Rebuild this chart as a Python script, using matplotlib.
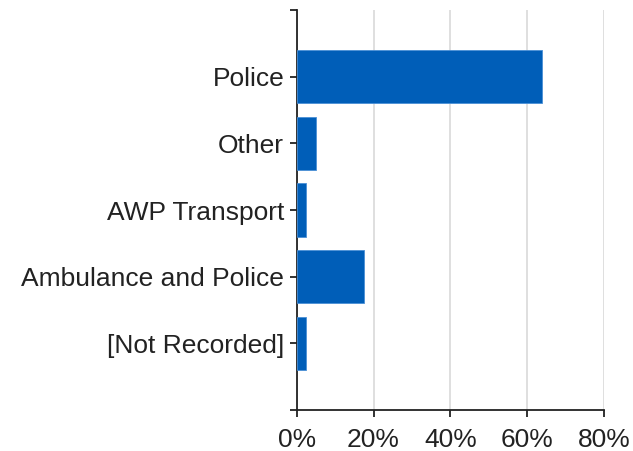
import numpy as np
import matplotlib.pyplot as plt

plt.rcParams['font.family'] = ['Liberation Sans', 'DejaVu Sans']

categories = ['Police', 'Other', 'AWP Transport', 'Ambulance and Police', '[Not Recorded]']
values = [63.8, 4.9, 2.3, 17.4, 2.3]
xticks = [0, 20, 40, 60, 80]

fig = plt.figure(figsize=(6.33, 4.51), dpi=100)
ax = fig.add_axes([0.4687, 0.0909, 0.4855, 0.8869])

y = np.arange(len(categories), 0, -1)
ax.barh(y, values, height=0.8, color='#005EB8', edgecolor='#4a8fd6', linewidth=0.6, zorder=3)

ax.set_xlim(0, 80)
ax.set_ylim(0, 6)
ax.set_xticks(xticks)
ax.set_xticklabels([f'{v}%' for v in xticks])
ax.set_yticks(range(0, 7))
ax.set_yticklabels([''] + categories[::-1] + [''])

ax.grid(axis='x', color='#d9d9d9', linewidth=1.2, zorder=0)
for s in ['top', 'right']:
    ax.spines[s].set_visible(False)
for s in ['left', 'bottom']:
    ax.spines[s].set_color('#222222')
    ax.spines[s].set_linewidth(1.3)

ax.tick_params(axis='both', colors='#222222', labelsize=19, width=1.3, length=5)
ax.tick_params(axis='y', pad=4)
ax.tick_params(axis='x', pad=8)

plt.savefig('out.png')
